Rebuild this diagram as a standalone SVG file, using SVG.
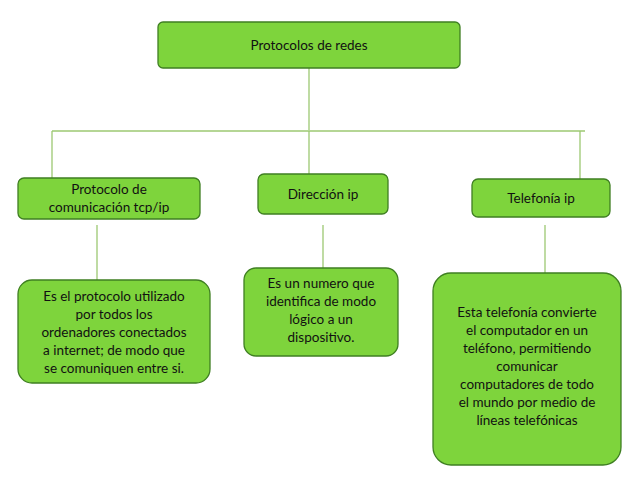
<svg xmlns="http://www.w3.org/2000/svg" width="638" height="479" viewBox="0 0 638 479">
<style>
.b{fill:#7ed43c;stroke:#3f7f22;stroke-width:1.3}
.c line{stroke:#9cc872;stroke-width:1.3}
text{font-family:Lato,"Open Sans",sans-serif;font-size:13.5px;fill:#111;text-anchor:middle}
</style>
<rect width="638" height="479" fill="#fff"/>
<g class="c" id="connectors">
<line x1="309" y1="68" x2="309" y2="130"/>
<line x1="52" y1="131" x2="585" y2="131"/>
<line x1="52" y1="131" x2="52" y2="178"/>
<line x1="309" y1="131" x2="309" y2="174"/>
<line x1="580" y1="131" x2="580" y2="179"/>
<line x1="97" y1="225" x2="97" y2="280"/>
<line x1="323" y1="225" x2="323" y2="268"/>
<line x1="545" y1="225" x2="545" y2="273"/>
</g>
<g id="root"><rect class="b" x="158" y="22" width="302" height="46" rx="5"/><text x="309" y="50">Protocolos de redes</text></g>
<g id="tcp"><rect class="b" x="18" y="178" width="182" height="41" rx="6"/><text x="109" y="194">Protocolo de</text><text x="109" y="212">comunicación tcp/ip</text></g>
<g id="dir"><rect class="b" x="258" y="174" width="130" height="40" rx="6"/><text x="323" y="199">Dirección ip</text></g>
<g id="tel"><rect class="b" x="472" y="179" width="138" height="38" rx="6"/><text x="541" y="203">Telefonía ip</text></g>
<g id="d1"><rect class="b" x="18" y="280" width="192" height="103" rx="14"/>
<text x="114" y="301">Es el protocolo utilizado</text><text x="114" y="319">por todos los</text><text x="114" y="337">ordenadores conectados</text><text x="114" y="355">a internet;  de modo que</text><text x="114" y="373">se comuniquen entre si.</text></g>
<g id="d2"><rect class="b" x="244" y="268" width="154" height="88" rx="12"/>
<text x="321" y="288">Es un numero que</text><text x="321" y="306">identifica de modo</text><text x="321" y="324">lógico a un</text><text x="321" y="342">dispositivo.</text></g>
<g id="d3"><rect class="b" x="433" y="273" width="188" height="192" rx="18"/>
<text x="527" y="317">Esta telefonía convierte</text><text x="527" y="335">el computador en un</text><text x="527" y="353">teléfono, permitiendo</text><text x="527" y="371">comunicar</text><text x="527" y="389">computadores de todo</text><text x="527" y="407">el mundo por medio de</text><text x="527" y="425">líneas telefónicas</text></g>
</svg>
